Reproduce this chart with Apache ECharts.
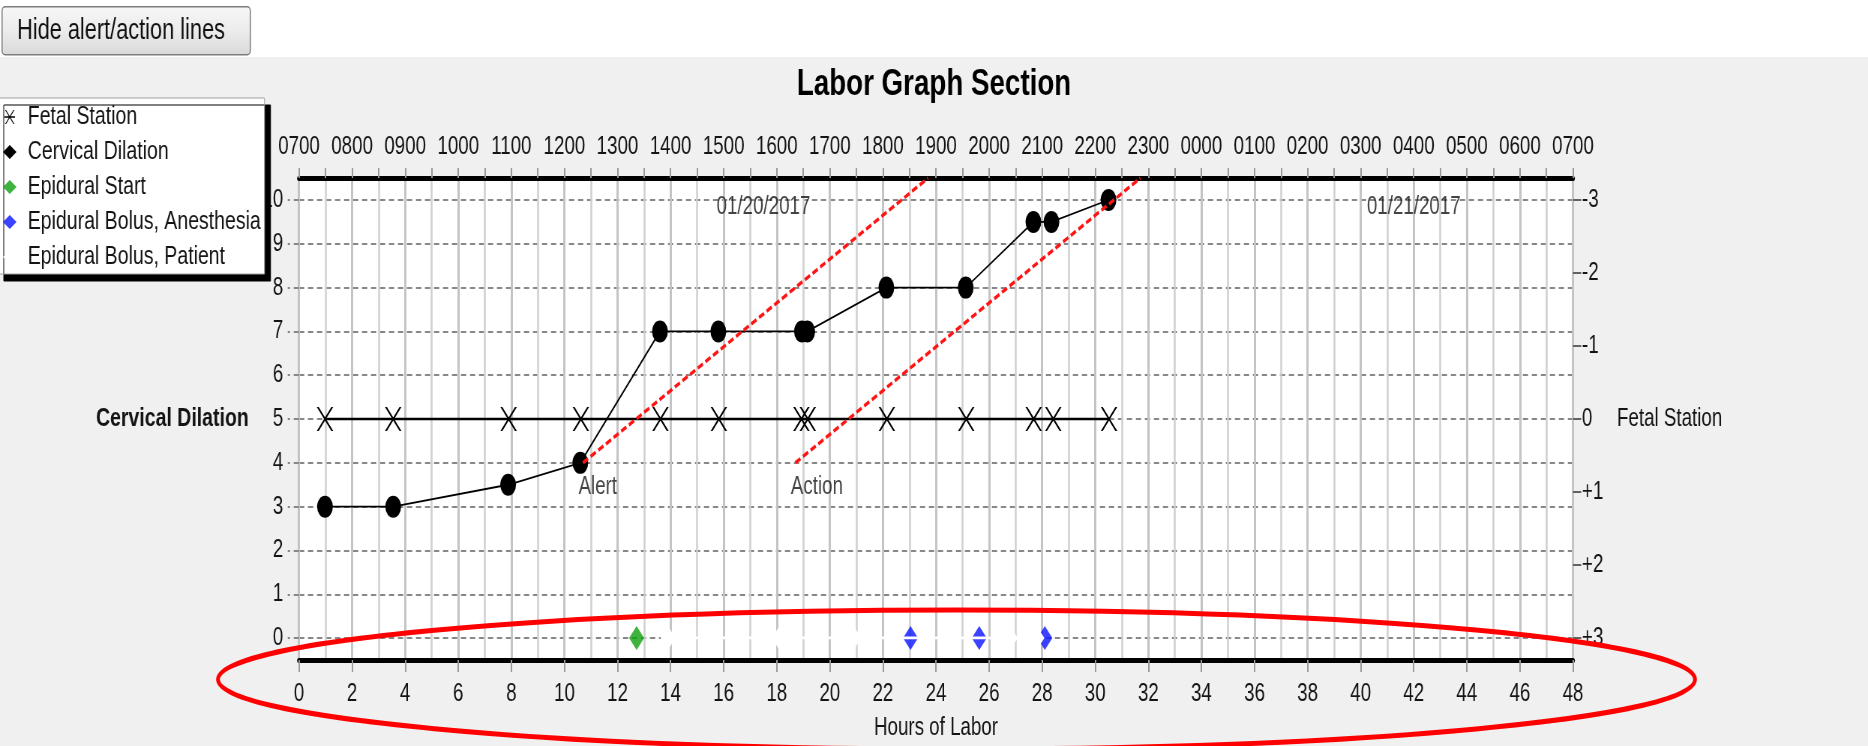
<!DOCTYPE html>
<html>
<head>
<meta charset="utf-8">
<script src="https://cdn.jsdelivr.net/npm/echarts@6/dist/echarts.min.js"></script>
<style>
html,body{margin:0;padding:0;background:#fff;overflow:hidden}
#wrap{width:1868px;height:746px;overflow:hidden;position:relative}
#chart{width:2491px;height:746px;transform:scaleX(0.7499);transform-origin:0 0}
</style>
</head>
<body>
<div id="wrap"><div id="chart"></div></div>
<script>
// ---------------- data ----------------
const topTimeLabels = ['0700','0800','0900','1000','1100','1200','1300','1400','1500','1600','1700','1800','1900','2000','2100','2200','2300','0000','0100','0200','0300','0400','0500','0600','0700'];
const dilationHours = [0.98, 3.55, 7.88, 10.6, 13.6, 15.8, 18.95, 19.15, 22.13, 25.12, 27.67, 28.35, 30.5];
const dilationCm    = [3, 3, 3.5, 4, 7, 7, 7, 7, 8, 8, 9.5, 9.5, 10];
const stationHours  = [0.98, 3.55, 7.9, 10.62, 13.62, 15.82, 18.93, 19.17, 22.15, 25.14, 27.68, 28.42, 30.52];
const stationValues = [0, 0, 0, 0, 0, 0, 0, 0, 0, 0, 0, 0, 0];
const epiduralStartHours   = [12.72];
const bolusAnesthesiaHours = [23.04, 25.63, 28.1];
const bolusPatientHours    = [13.9, 15.3, 16.7, 18.1, 19.5, 20.9, 22.3, 24.3, 26.8, 27.8];
const alertLine  = [[10.7, 4], [23.7, 10.5]];
const actionLine = [[18.7, 4], [31.7, 10.5]];
const lineLabels = ['Alert', 'Action'];
const dateHours  = [17.5, 42];
const dateLabels = ['01/20/2017', '01/21/2017'];

// ---------------- styles ----------------
const FONT = "'Liberation Sans', Arial, sans-serif";
const TXT = '#141414';
const xPath = 'path://M0,0L2.6,0L22,24L19.4,24Z M19.4,0L22,0L2.6,24L0,24Z';
const starPath = 'path://M0,9L20,9L20,11L0,11Z M1,0L3,0L19,20L17,20Z M17,0L19,0L3,20L1,20Z';

const chart = echarts.init(document.getElementById('chart'), null, {renderer: 'canvas'});

const option = {
  animation: false,
  backgroundColor: '#f0f0f0',
  textStyle: {fontFamily: FONT},
  title: {
    text: 'Labor Graph Section',
    left: 'center', top: 61,
    textStyle: {fontSize: 37, fontWeight: 'bold', color: '#000', fontFamily: FONT}
  },
  legend: {
    orient: 'vertical', left: -3, top: 98,
    padding: [4, 5, 2, 7], itemGap: 5, itemWidth: 18, itemHeight: 14,
    backgroundColor: '#fff', borderColor: '#a0a0a0', borderWidth: 1,
    shadowColor: '#000', shadowBlur: 0, shadowOffsetX: 8, shadowOffsetY: 7,
    selectedMode: false,
    textStyle: {fontSize: 26, lineHeight: 30, color: TXT, fontFamily: FONT, padding: [0, 0, 0, 10]},
    data: [
      {name: 'Fetal Station', icon: starPath},
      {name: 'Cervical Dilation', icon: 'diamond'},
      {name: 'Epidural Start', icon: 'diamond'},
      {name: 'Epidural Bolus, Anesthesia', icon: 'diamond'},
      {name: 'Epidural Bolus, Patient', icon: 'diamond'}
    ]
  },
  grid: [
    {left: 398.7, right: 393.4, top: 178, bottom: 86, show: true, backgroundColor: '#fff', borderWidth: 0},
    {left: 398.7, right: 393.4, top: 200, bottom: 107.9, show: false}
  ],
  xAxis: [
    { // bottom hours axis
      type: 'value', gridIndex: 0, position: 'bottom', min: 0, max: 48, interval: 2,
      name: 'Hours of Labor', nameLocation: 'middle', nameGap: 56,
      nameTextStyle: {fontSize: 25, color: TXT, fontFamily: FONT},
      axisLine: {show: true, onZero: false, lineStyle: {color: '#000', width: 5}},
      axisTick: {show: true, length: 12, lineStyle: {color: '#9a9a9a', width: 2}},
      minorTick: {show: false, splitNumber: 2},
      axisLabel: {fontSize: 25, color: TXT, margin: 22, fontFamily: FONT},
      splitLine: {show: true, lineStyle: {color: '#c4c4c4', width: 3}},
      minorSplitLine: {show: true, lineStyle: {color: '#d0d0d0', width: 2.5}}
    },
    { // top clock-time axis
      type: 'value', gridIndex: 0, position: 'top', min: 0, max: 48, interval: 2,
      axisLine: {show: true, onZero: false, lineStyle: {color: '#000', width: 5}},
      axisTick: {show: true, length: 10, lineStyle: {color: '#9a9a9a', width: 2}},
      minorTick: {show: true, splitNumber: 2, length: 10, lineStyle: {color: '#9a9a9a', width: 2}},
      axisLabel: {fontSize: 25, color: TXT, margin: 18, fontFamily: FONT,
        formatter: v => topTimeLabels[Math.round(v / 2)]},
      splitLine: {show: false}
    },
    { // data x axis for the value grid
      type: 'value', gridIndex: 1, min: 0, max: 48, show: false
    }
  ],
  yAxis: [
    {type: 'value', gridIndex: 0, min: -0.5, max: 10.5, show: false},
    { // cervical dilation
      type: 'value', gridIndex: 1, position: 'left', min: 0, max: 10, interval: 1,
      name: 'Cervical Dilation', nameLocation: 'middle', nameRotate: 0, nameGap: 67,
      nameTextStyle: {fontSize: 26, fontWeight: 'bold', color: TXT, fontFamily: FONT},
      axisLine: {show: false},
      axisTick: {show: true, length: 15, lineStyle: {color: '#878787', width: 2, type: [7, 5]}},
      axisLabel: {fontSize: 25, color: TXT, margin: 21, fontFamily: FONT},
      splitLine: {show: true, lineStyle: {color: '#878787', width: 2, type: [7, 5]}}
    },
    { // fetal station
      type: 'value', gridIndex: 1, position: 'right', min: -3, max: 3, interval: 1, inverse: true,
      name: 'Fetal Station', nameLocation: 'middle', nameRotate: 0, nameGap: 58.7,
      nameTextStyle: {fontSize: 25, color: TXT, fontFamily: FONT},
      axisLine: {show: false},
      axisTick: {show: true, length: 11, lineStyle: {color: '#333', width: 1.5}},
      axisLabel: {fontSize: 25, color: TXT, margin: 12, fontFamily: FONT,
        formatter: v => (v > 0 ? '+' + v : String(v))},
      splitLine: {show: false}
    }
  ],
  series: [
    {
      name: 'Fetal Station', type: 'line', xAxisIndex: 2, yAxisIndex: 2,
      data: stationHours.map((h, i) => [h, stationValues[i]]),
      symbol: xPath, symbolSize: [22, 24],
      itemStyle: {color: '#000'},
      lineStyle: {color: '#000', width: 2.5}, z: 3
    },
    {
      name: 'Cervical Dilation', type: 'line', xAxisIndex: 2, yAxisIndex: 1,
      data: dilationHours.map((h, i) => [h, dilationCm[i]]),
      symbol: 'circle', symbolSize: [21, 22],
      itemStyle: {color: '#000'},
      lineStyle: {color: '#000', width: 1.8}, z: 4
    },
    {
      name: 'Epidural Start', type: 'scatter', xAxisIndex: 2, yAxisIndex: 1,
      data: epiduralStartHours.map(h => [h, 0]),
      symbol: 'diamond', symbolSize: [20, 24], itemStyle: {color: '#0ea00e'}, z: 5
    },
    {
      name: 'Epidural Bolus, Anesthesia', type: 'scatter', xAxisIndex: 2, yAxisIndex: 1,
      data: bolusAnesthesiaHours.map(h => [h, 0]),
      symbol: 'diamond', symbolSize: [20, 24], itemStyle: {color: '#0a14ff'}, z: 5
    },
    {
      name: 'Epidural Bolus, Patient', type: 'line', xAxisIndex: 2, yAxisIndex: 1,
      data: bolusPatientHours.map(h => [h, 0]),
      symbol: 'diamond', symbolSize: [20, 24], itemStyle: {color: '#ffffff'},
      lineStyle: {color: '#ffffff', width: 3}, z: 6
    },
    {
      name: 'Alert line', type: 'line', xAxisIndex: 2, yAxisIndex: 1, clip: false,
      data: alertLine, symbol: 'none',
      lineStyle: {color: '#ff1414', width: 3.5, type: [8, 4]}, z: 7
    },
    {
      name: 'Action line', type: 'line', xAxisIndex: 2, yAxisIndex: 1, clip: false,
      data: actionLine, symbol: 'none',
      lineStyle: {color: '#ff1414', width: 3.5, type: [8, 4]}, z: 7
    },
    {
      name: 'line labels', type: 'scatter', xAxisIndex: 2, yAxisIndex: 1,
      data: [alertLine[0], actionLine[0]].map((p, i) => [p[0], p[1], lineLabels[i]]),
      symbolSize: 1, itemStyle: {color: 'rgba(0,0,0,0)'}, silent: true, z: 8,
      label: {show: true, position: 'bottom', align: 'left', distance: 11, offset: [-6, 0],
        formatter: p => p.value[2], fontSize: 25, color: TXT, fontFamily: FONT}
    },
    {
      name: 'dates', type: 'scatter', xAxisIndex: 2, yAxisIndex: 1,
      data: dateHours.map((h, i) => [h, 10, dateLabels[i]]),
      symbolSize: 1, itemStyle: {color: 'rgba(0,0,0,0)'}, silent: true, z: 8,
      label: {show: true, position: 'inside', offset: [0, 7],
        formatter: p => p.value[2], fontSize: 25, color: TXT, fontFamily: FONT}
    }
  ],
  graphic: [
    {type: 'rect', shape: {x: 0, y: 0, width: 2491, height: 57}, style: {fill: '#ffffff'}, z: -10, silent: true},
    {
      type: 'group', left: 2, top: 6, z: 10,
      children: [
        {type: 'rect', shape: {x: 0, y: 0, width: 331, height: 48, r: 4},
          style: {fill: new echarts.graphic.LinearGradient(0, 0, 0, 1, [
            {offset: 0, color: '#f7f7f7'}, {offset: 0.5, color: '#ececec'}, {offset: 1, color: '#d9d9d9'}]),
            stroke: '#7c7c7c', lineWidth: 1.5}},
        {type: 'text', x: 20, y: 24,
          style: {text: 'Hide alert/action lines', fontSize: 29, fill: '#111', fontFamily: FONT,
            verticalAlign: 'middle', align: 'left'}}
      ]
    },
    {type: 'ellipse', shape: {cx: 1275.5, cy: 679.5, rx: 984.8, ry: 69.5},
      style: {fill: 'none', stroke: '#ff0000', lineWidth: 5}, z: 100, silent: true}
  ]
};
chart.setOption(option);
</script>
</body>
</html>
